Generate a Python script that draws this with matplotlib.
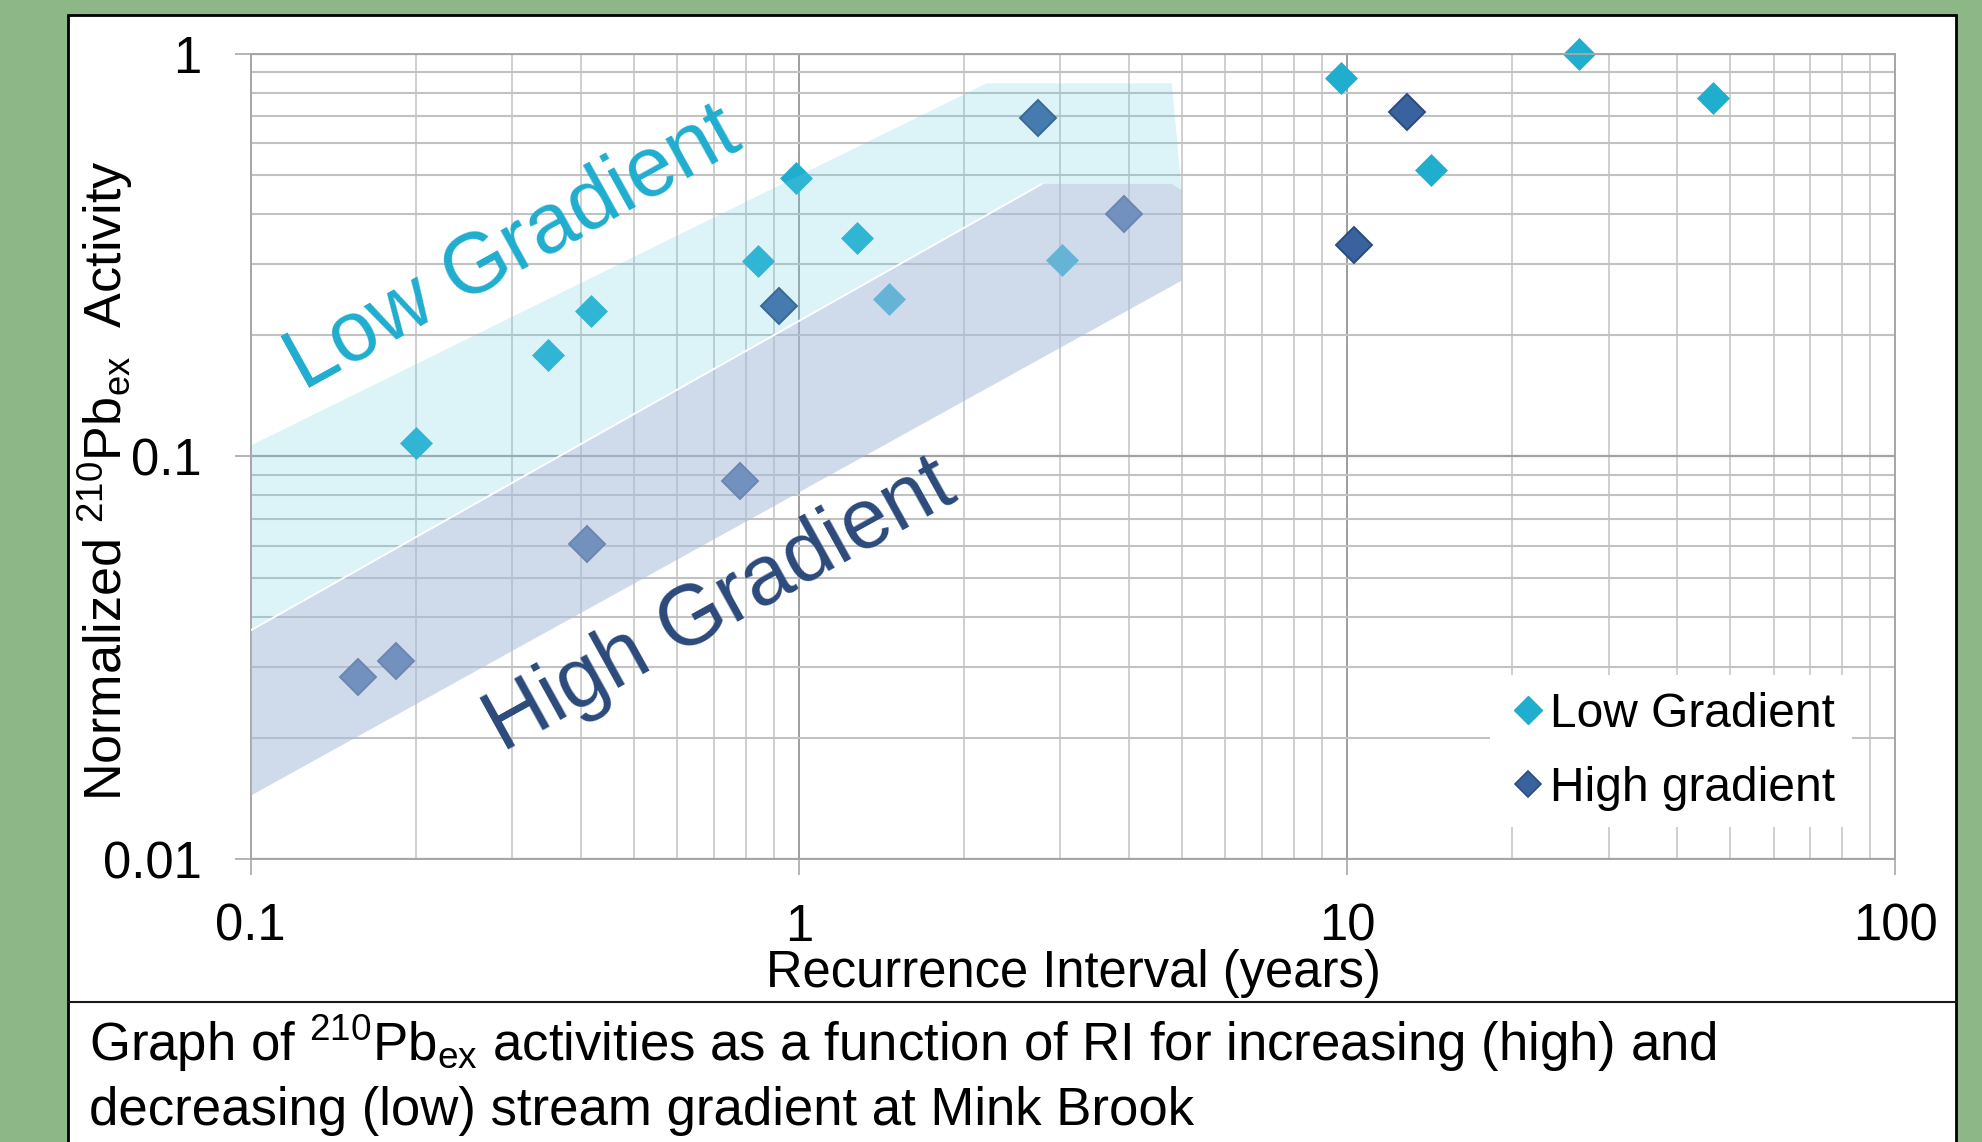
import matplotlib
matplotlib.use('Agg')
import matplotlib.pyplot as plt
from matplotlib import ticker
from matplotlib.lines import Line2D
from matplotlib.patches import Rectangle, Polygon

plt.rcParams['font.family'] = ['Liberation Sans', 'DejaVu Sans']
plt.rcParams['mathtext.fontset'] = 'custom'
plt.rcParams['mathtext.rm'] = 'Liberation Sans'
plt.rcParams['mathtext.it'] = 'Liberation Sans:italic'
plt.rcParams['mathtext.bf'] = 'Liberation Sans:bold'

# ---------------- data ----------------
low_ri = [0.200, 0.348, 0.418, 0.844, 0.987, 1.276, 1.458, 3.02, 9.74, 14.2, 26.5, 46.6]
low_act = [0.108, 0.179, 0.229, 0.305, 0.491, 0.348, 0.246, 0.307, 0.868, 0.513, 1.00, 0.777]

high_ri = [0.157, 0.184, 0.411, 0.781, 0.919, 2.735, 3.925, 10.3, 12.85]
high_act = [0.0283, 0.0311, 0.0606, 0.0868, 0.236, 0.691, 0.400, 0.335, 0.7175]

# shaded envelopes (polygon vertices, RI / activity)
low_band_ri = [0.1, 2.20, 4.79, 4.99, 4.79, 2.774, 0.1]
low_band_act = [0.1064, 0.8437, 0.8437, 0.4585, 0.4746, 0.4746, 0.0370]
high_band_ri = [0.1, 2.774, 4.79, 4.99, 4.99, 0.1]
high_band_act = [0.0370, 0.4746, 0.4746, 0.4585, 0.2731, 0.01438]

x_ticks = [0.1, 1, 10, 100]
y_ticks = [0.01, 0.1, 1]

series_labels = ['Low Gradient', 'High gradient']
band_labels = ['Low Gradient', 'High Gradient']
low_label_pos = (0.1250, 0.1451)
high_label_pos = (0.2880, 0.01845)

xlabel = 'Recurrence Interval (years)'
ylabel = 'Normalized $^{210}$Pb$_{\\mathrm{ex}}$  Activity'
caption = ['Graph of $^{210}$Pb$_{\\mathrm{ex}}$ activities as a function of RI for increasing (high) and',
           'decreasing (low) stream gradient at Mink Brook']

# ---------------- style ----------------
LOW_C = '#20AECF'
HIGH_C = '#3A629E'
HIGH_EC = '#2B4C7E'
LOW_TXT = '#1FADCF'
HIGH_TXT = '#2B4A7B'

W, H, DPI = 1982, 1142, 100
fig = plt.figure(figsize=(W / DPI, H / DPI), dpi=DPI, facecolor='#8DB786')


def fx(px):
    return px / W


def fy(py):
    return 1 - py / H


# white panel with black border
fig.patches.append(Rectangle((fx(67.5), -0.02), fx(1956.5) - fx(67.5), fy(15.3) + 0.02,
                             transform=fig.transFigure, facecolor='white',
                             edgecolor='black', linewidth=2.0, zorder=-5))
fig.add_artist(Line2D([fx(67.5), fx(1956.5)], [fy(1001.7), fy(1001.7)],
                      color='#1a1a1a', lw=1.5, transform=fig.transFigure, zorder=-4))

ax = fig.add_axes([fx(250.6), fy(859.3), fx(1895.3) - fx(250.6), (859.3 - 53.6) / H])
ax.set_zorder(1)
ax.set_xscale('log')
ax.set_yscale('log')
ax.set_xlim(0.1, 100)
ax.set_ylim(0.01, 1)
ax.set_facecolor('none')
ax.set_axisbelow(True)

ax.xaxis.set_major_locator(ticker.FixedLocator(x_ticks))
ax.yaxis.set_major_locator(ticker.FixedLocator(y_ticks))
ax.xaxis.set_minor_locator(ticker.LogLocator(base=10, subs=range(2, 10)))
ax.yaxis.set_minor_locator(ticker.LogLocator(base=10, subs=range(2, 10)))
fmt = ticker.FuncFormatter(lambda v, p: f'{v:g}')
ax.xaxis.set_major_formatter(fmt)
ax.yaxis.set_major_formatter(fmt)
ax.xaxis.set_minor_formatter(ticker.NullFormatter())
ax.yaxis.set_minor_formatter(ticker.NullFormatter())

ax.grid(True, which='minor', axis='x', color='#C2C2C2', lw=1.1)
ax.grid(True, which='minor', axis='y', color='#C2C2C2', lw=1.5)
ax.grid(True, which='major', axis='x', color='#8E8E8E', lw=1.2)
ax.grid(True, which='major', axis='y', color='#A2A2A2', lw=1.6)
for s in ax.spines.values():
    s.set_color('#A6A6A6')
    s.set_linewidth(1.4)

ax.tick_params(which='minor', length=0)
ax.tick_params(which='major', direction='out', length=11.3, width=1.1, color='#A0A0A0',
               labelsize=36.5, labelcolor='black')
ax.tick_params(axis='x', which='major', pad=20)
ax.tick_params(axis='y', which='major', pad=24)

# markers (drawn beneath the translucent envelopes)
ax.plot(low_ri, low_act, ls='none', marker='D', ms=16.8, mfc=LOW_C, mec=LOW_C, mew=0.5,
        zorder=2, clip_on=False)
ax.plot(high_ri, high_act, ls='none', marker='D', ms=18.0, mfc=HIGH_C, mec=HIGH_EC, mew=1.4,
        zorder=2, clip_on=False)

ax.add_patch(Polygon(list(zip(low_band_ri, low_band_act)), closed=True,
                     facecolor='#6BCFE5', alpha=0.23, edgecolor='none', zorder=3))
ax.add_patch(Polygon(list(zip(high_band_ri, high_band_act)), closed=True,
                     facecolor='#A6BBDB', alpha=0.53, edgecolor='none', zorder=3))
ax.plot(high_band_ri[:2], high_band_act[:2], color='white', lw=1.4, zorder=3.5)

ax.text(low_label_pos[0], low_label_pos[1], band_labels[0], rotation=29, rotation_mode='anchor',
        ha='left', va='baseline', fontsize=61, color=LOW_TXT, zorder=5)
ax.text(high_label_pos[0], high_label_pos[1], band_labels[1], rotation=29, rotation_mode='anchor',
        ha='left', va='baseline', fontsize=61, color=HIGH_TXT, zorder=5)

ax.set_xlabel(xlabel, fontsize=36.5, va='baseline')
ax.xaxis.set_label_coords(0.5, -(987 - 859.3) / 805.7)
ax.set_ylabel(ylabel, fontsize=37.5, va='baseline', ha='center')
ax.yaxis.set_label_coords((121.7 - 250.6) / 1644.7, (859.3 - 481) / 805.7)

handles = [Line2D([], [], ls='none', marker='D', ms=14, mfc=LOW_C, mec=LOW_C, label=series_labels[0]),
           Line2D([], [], ls='none', marker='D', ms=13, mfc=HIGH_C, mec=HIGH_EC, mew=1.2,
                  label=series_labels[1])]
leg = ax.legend(handles=handles, loc='upper left', bbox_to_anchor=(fx(1490), fy(675)),
                bbox_transform=fig.transFigure, frameon=True, fancybox=False, framealpha=1,
                facecolor='white', edgecolor='none', fontsize=34.5, borderpad=0.35,
                handlelength=0.9, handletextpad=0.0, labelspacing=0.6, borderaxespad=0)
leg.set_zorder(6)

fig.text(fx(89), fy(1060.7), caption[0], fontsize=38, ha='left', va='baseline')
fig.text(fx(89), fy(1125), caption[1], fontsize=38, ha='left', va='baseline')

fig.savefig('out.png', dpi=DPI, facecolor=fig.get_facecolor())
